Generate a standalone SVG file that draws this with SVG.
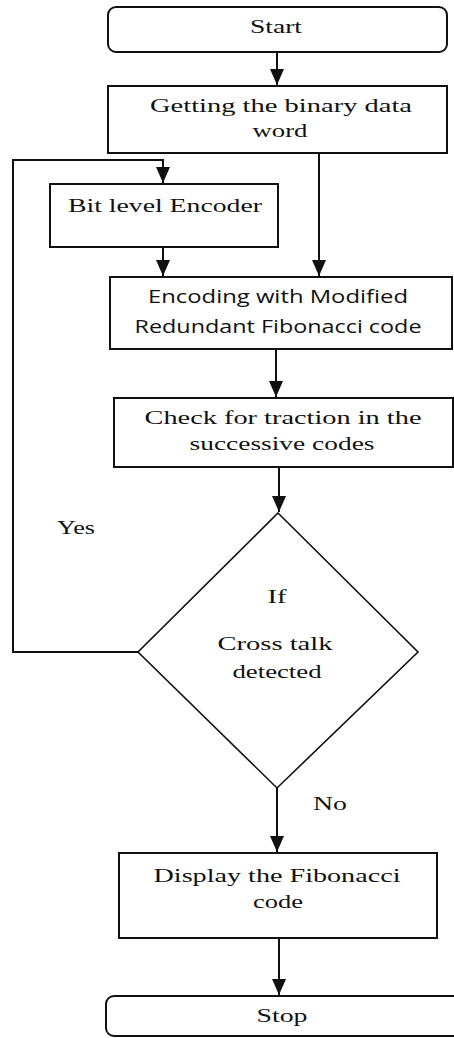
<svg xmlns="http://www.w3.org/2000/svg" width="454" height="1038" viewBox="0 0 454 1038">
<style>
.box{fill:#fff;stroke:#111;stroke-width:2}
.dia{fill:#fff;stroke:#111;stroke-width:1.6}
.ln{fill:none;stroke:#111;stroke-width:2}
.t{font-family:"Liberation Serif","Times New Roman",serif;font-size:19px;fill:#111;text-anchor:middle}
.s{font-family:"Open Sans","Liberation Sans",sans-serif;font-size:18px;fill:#111;text-anchor:middle}
</style>
<defs>
<marker id="ah" markerUnits="userSpaceOnUse" markerWidth="16" markerHeight="14" viewBox="0 0 16 14" refX="16" refY="7" orient="auto">
<path d="M0,0 L16,7 L0,14 Z" fill="#111"/>
</marker>
</defs>
<g id="connectors">
<line class="ln" x1="277" y1="52" x2="277" y2="85" marker-end="url(#ah)"/>
<line class="ln" x1="319" y1="153" x2="319" y2="276" marker-end="url(#ah)"/>
<line class="ln" x1="163" y1="247" x2="163" y2="276" marker-end="url(#ah)"/>
<line class="ln" x1="276" y1="349" x2="276" y2="397" marker-end="url(#ah)"/>
<line class="ln" x1="279" y1="467" x2="279" y2="512" marker-end="url(#ah)"/>
<polyline class="ln" points="138,652 13,652 13,160 163,160 163,183" marker-end="url(#ah)"/>
<line class="ln" x1="277" y1="788" x2="277" y2="852" marker-end="url(#ah)"/>
<line class="ln" x1="279" y1="938" x2="279" y2="995" marker-end="url(#ah)"/>
</g>
<g id="start">
<rect class="box" x="108" y="7" width="339" height="45" rx="8"/>
<text class="t" x="276" y="33" textLength="52" lengthAdjust="spacingAndGlyphs">Start</text>
</g>
<g id="getting">
<rect class="box" x="108" y="86" width="339" height="67"/>
<text class="t" x="281" y="112" textLength="262" lengthAdjust="spacingAndGlyphs">Getting the binary data</text>
<text class="t" x="280" y="137" textLength="55" lengthAdjust="spacingAndGlyphs">word</text>
</g>
<g id="bitlevel">
<rect class="box" x="50" y="184" width="228" height="63"/>
<text class="t" x="165" y="212" textLength="194" lengthAdjust="spacingAndGlyphs">Bit level Encoder</text>
</g>
<g id="encoding">
<rect class="box" x="110" y="277" width="342" height="72"/>
<text class="s" x="278" y="303" textLength="260" lengthAdjust="spacingAndGlyphs">Encoding with Modified</text>
<text class="s" x="278" y="333" textLength="287" lengthAdjust="spacingAndGlyphs">Redundant Fibonacci code</text>
</g>
<g id="check">
<rect class="box" x="114" y="398" width="339" height="69"/>
<text class="t" x="283" y="424" textLength="277" lengthAdjust="spacingAndGlyphs">Check for traction in the</text>
<text class="t" x="282" y="450" textLength="185" lengthAdjust="spacingAndGlyphs">successive codes</text>
</g>
<g id="decision">
<polygon class="dia" points="278,513 418,652 277,788 138,652"/>
<text class="t" x="277" y="603" textLength="19" lengthAdjust="spacingAndGlyphs">If</text>
<text class="t" x="275" y="650" textLength="115" lengthAdjust="spacingAndGlyphs">Cross talk</text>
<text class="t" x="277" y="678" textLength="89" lengthAdjust="spacingAndGlyphs">detected</text>
</g>
<g id="labels">
<text class="t" x="76" y="534" textLength="38" lengthAdjust="spacingAndGlyphs">Yes</text>
<text class="t" x="330" y="810" textLength="34" lengthAdjust="spacingAndGlyphs">No</text>
</g>
<g id="display">
<rect class="box" x="119" y="853" width="318" height="85"/>
<text class="t" x="277" y="882" textLength="247" lengthAdjust="spacingAndGlyphs">Display the Fibonacci</text>
<text class="t" x="278" y="908" textLength="50" lengthAdjust="spacingAndGlyphs">code</text>
</g>
<g id="stop">
<rect class="box" x="106" y="996" width="360" height="40" rx="8"/>
<text class="t" x="282" y="1022" textLength="51" lengthAdjust="spacingAndGlyphs">Stop</text>
</g>
</svg>
